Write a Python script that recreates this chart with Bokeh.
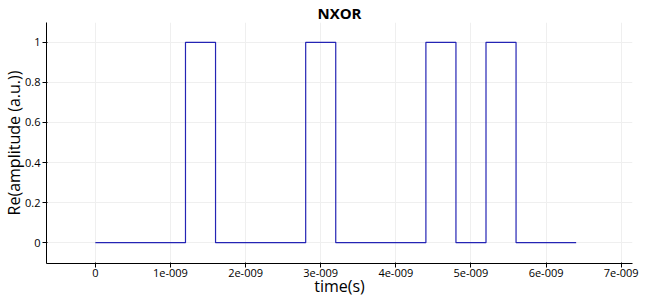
from bokeh.plotting import figure
from bokeh.models import FixedTicker, Range1d
from bokeh.embed import file_html
from bokeh.resources import INLINE

# data: step edges (s) and levels
t_edges = [0, 1.2e-9, 1.6e-9, 2.8e-9, 3.2e-9, 4.4e-9, 4.8e-9, 5.2e-9, 5.6e-9, 6.4e-9]
levels = [0, 1, 0, 1, 0, 1, 0, 1, 0, 0]

x_ticks = [0, 1e-9, 2e-9, 3e-9, 4e-9, 5e-9, 6e-9, 7e-9]
x_tick_labels = ["0", "1e-009", "2e-009", "3e-009", "4e-009", "5e-009", "6e-009", "7e-009"]
y_ticks = [0, 0.2, 0.4, 0.6, 0.8, 1]
y_tick_labels = ["0", "0.2", "0.4", "0.6", "0.8", "1"]

FONT = "Open Sans"

p = figure(width=650, height=301, output_backend="svg", toolbar_location=None,
           x_range=Range1d(-0.65e-9, 7.15e-9), y_range=Range1d(-0.104, 1.099),
           title="NXOR", x_axis_label="time(s)", y_axis_label="Re(amplitude (a.u.))")
p.min_border_left = 46
p.min_border_right = 18
p.min_border_top = 20
p.min_border_bottom = 38
p.outline_line_color = None
p.background_fill_color = "white"

p.title.align = "center"
p.title.text_font = FONT
p.title.text_font_size = "15px"
p.title.text_font_style = "bold"
p.title.text_color = "black"
p.title.offset = 0
p.title.standoff = 0

p.step(t_edges, levels, mode="after", line_color="#2424b4", line_width=1.2)

for ax in (p.xaxis, p.yaxis):
    ax.axis_line_color = "black"
    ax.major_tick_line_color = "black"
    ax.minor_tick_line_color = None
    ax.major_tick_out = 4
    ax.major_tick_in = 1
    ax.major_label_text_font = FONT
    ax.major_label_text_font_size = "11px"
    ax.major_label_text_color = "black"
    ax.axis_label_text_font = FONT
    ax.axis_label_text_font_size = "16px"
    ax.axis_label_text_font_style = "normal"
    ax.axis_label_text_color = "black"

p.xaxis.ticker = FixedTicker(ticks=x_ticks)
p.xaxis.major_label_overrides = {t: l for t, l in zip(x_ticks, x_tick_labels)}
p.yaxis.ticker = FixedTicker(ticks=y_ticks)
p.yaxis.major_label_overrides = {t: l for t, l in zip(y_ticks, y_tick_labels)}
p.xaxis.axis_label_standoff = -5
p.yaxis.axis_label_standoff = -3
p.xaxis.major_label_standoff = 1
p.yaxis.major_label_standoff = 2

p.xgrid.grid_line_color = "#efefef"
p.ygrid.grid_line_color = "#efefef"

open("out.html", "w").write(file_html(p, INLINE))
